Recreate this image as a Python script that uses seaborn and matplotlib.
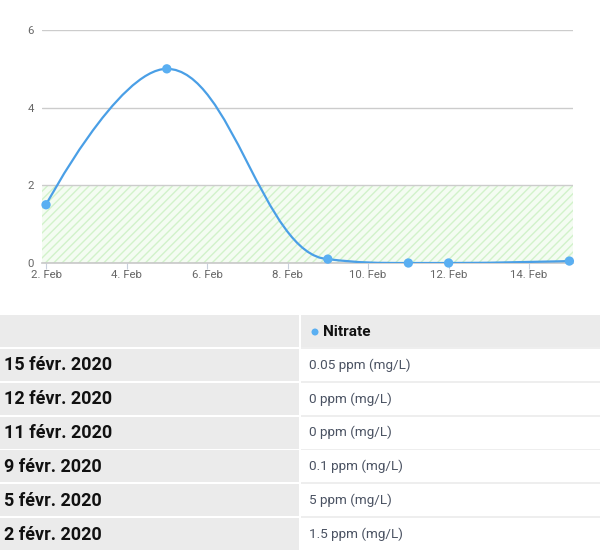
import numpy as np
import pandas as pd
import matplotlib
matplotlib.use("Agg")
import matplotlib.pyplot as plt
import matplotlib.dates as mdates
from matplotlib.path import Path
from matplotlib.patches import PathPatch, Rectangle, Circle
import seaborn as sns

# ---- data ----
dates = ["2020-02-02", "2020-02-05", "2020-02-09", "2020-02-11", "2020-02-12", "2020-02-15"]
nitrate = [1.5, 5, 0.1, 0, 0, 0.05]
band_low, band_high = 0, 2
y_ticks = [0, 2, 4, 6]
x_tick_dates = ["2020-02-02", "2020-02-04", "2020-02-06", "2020-02-08",
                "2020-02-10", "2020-02-12", "2020-02-14"]
x_tick_labels = ["2. Feb", "4. Feb", "6. Feb", "8. Feb", "10. Feb", "12. Feb", "14. Feb"]
series_name = "Nitrate"
row_labels = ["15 févr. 2020", "12 févr. 2020", "11 févr. 2020",
              "9 févr. 2020", "5 févr. 2020", "2 févr. 2020"]
row_values = ["0.05 ppm (mg/L)", "0 ppm (mg/L)", "0 ppm (mg/L)",
              "0.1 ppm (mg/L)", "5 ppm (mg/L)", "1.5 ppm (mg/L)"]

sns.set_theme(style="white")
plt.rcParams['font.family'] = ['Roboto', 'DejaVu Sans']
plt.rcParams['hatch.linewidth'] = 1.0

W, H = 600, 553
fig = plt.figure(figsize=(W / 100, H / 100), dpi=100)
fig.patch.set_facecolor("white")

def fx(px):
    return px / W

def fy(py):
    return 1 - py / H

ax = fig.add_axes([fx(42), fy(263), fx(573) - fx(42), fy(30) - fy(263)])

df = pd.DataFrame({"date": pd.to_datetime(dates), "value": nitrate})
xs = mdates.date2num(df["date"])
ys = np.array(nitrate, dtype=float)

# Highcharts-like spline path
def spline_path(x, y, smoothing=1.5):
    n = len(x)
    lc = [None] * n
    rc = [None] * n
    denom = smoothing + 1
    for i in range(1, n - 1):
        px, py = x[i], y[i]
        lx, ly = x[i - 1], y[i - 1]
        nx, ny = x[i + 1], y[i + 1]
        lcx = (smoothing * px + lx) / denom
        lcy = (smoothing * py + ly) / denom
        rcx = (smoothing * px + nx) / denom
        rcy = (smoothing * py + ny) / denom
        if rcx != lcx:
            corr = (rcy - lcy) * (rcx - px) / (rcx - lcx) + py - rcy
            lcy += corr
            rcy += corr
        if lcy > ly and lcy > py:
            lcy = max(ly, py); rcy = 2 * py - lcy
        elif lcy < ly and lcy < py:
            lcy = min(ly, py); rcy = 2 * py - lcy
        if rcy > ny and rcy > py:
            rcy = max(ny, py); lcy = 2 * py - rcy
        elif rcy < ny and rcy < py:
            rcy = min(ny, py); lcy = 2 * py - rcy
        lc[i] = (lcx, lcy)
        rc[i] = (rcx, rcy)
    verts = [(x[0], y[0])]
    codes = [Path.MOVETO]
    for i in range(1, n):
        c1 = rc[i - 1] if rc[i - 1] is not None else (x[i - 1], y[i - 1])
        c2 = lc[i] if lc[i] is not None else (x[i], y[i])
        verts += [c1, c2, (x[i], y[i])]
        codes += [Path.CURVE4] * 3
    return Path(verts, codes)

# band
ax.axhspan(band_low, band_high, facecolor="#f4fcf2", edgecolor="#d2f2ca",
           hatch="////", linewidth=0, zorder=0)

ax.add_patch(PathPatch(spline_path(xs, ys), facecolor="none", edgecolor="#4a9fe6",
                       linewidth=1.6, zorder=3, capstyle="round"))
sns.scatterplot(data=df, x="date", y="value", ax=ax, color="#5aaff2", s=45,
                edgecolor="none", zorder=4, clip_on=False, legend=False)

ax.set_xlim(mdates.date2num(pd.Timestamp("2020-02-02")) - 0.10,
            mdates.date2num(pd.Timestamp("2020-02-15")) + 0.09)
ax.set_ylim(0, 6)
ax.set_yticks(y_ticks)
ax.set_yticklabels([str(v) for v in y_ticks])
ax.set_xticks(mdates.date2num(pd.to_datetime(x_tick_dates)))
ax.set_xticklabels(x_tick_labels)
ax.set_xlabel("")
ax.set_ylabel("")
for s in ["top", "right", "left"]:
    ax.spines[s].set_visible(False)
ax.spines["bottom"].set_color("#c8c8c8")
ax.spines["bottom"].set_linewidth(1.2)
ax.grid(axis="y", color="#cccccc", linewidth=1.0)
ax.grid(axis="x", visible=False)
ax.set_axisbelow(True)
ax.tick_params(axis="x", colors="#c8d0dc", length=4, width=0.8, pad=1,
               labelcolor="#666666", labelsize=8.2, bottom=True)
ax.tick_params(axis="y", length=0, pad=6, labelcolor="#666666", labelsize=8.2)
ax.patch.set_alpha(0)

# ---- table ----
tab = fig.add_axes([0, 0, 1, 1])
tab.set_xlim(0, W)
tab.set_ylim(H, 0)
tab.axis("off")
tab.patch.set_alpha(0)

grey = "#ebebeb"
head_top, head_bot = 315, 347
tab.add_patch(Rectangle((0, head_top), 299, head_bot - head_top, color=grey, lw=0))
tab.add_patch(Rectangle((301, head_top), W - 301, head_bot - head_top, color=grey, lw=0))
tab.add_patch(Rectangle((301, head_bot), W - 301, 550 - head_bot, color="#eeeeee", lw=0))
tab.add_artist(Circle((315, 332), 3.5, color="#5aaff2", lw=0))
tab.text(323, 332, series_name, fontsize=11, fontweight="bold", color="#111111",
         va="center", ha="left")

row_top0, pitch, row_h = 349, 33.8, 32
for i, (lab, val) in enumerate(zip(row_labels, row_values)):
    t = row_top0 + i * pitch
    tab.add_patch(Rectangle((0, t), 299, row_h, color=grey, lw=0))
    tab.add_patch(Rectangle((301, t), W - 301, row_h, color="white", lw=0))
    tab.text(4, t + row_h / 2 + 0.5, lab, fontsize=13, fontweight="bold",
             color="#111111", va="center", ha="left")
    tab.text(309, t + row_h / 2, val, fontsize=9.7, color="#4a5262",
             va="center", ha="left")

fig.savefig("out.png", dpi=100, facecolor="white")
